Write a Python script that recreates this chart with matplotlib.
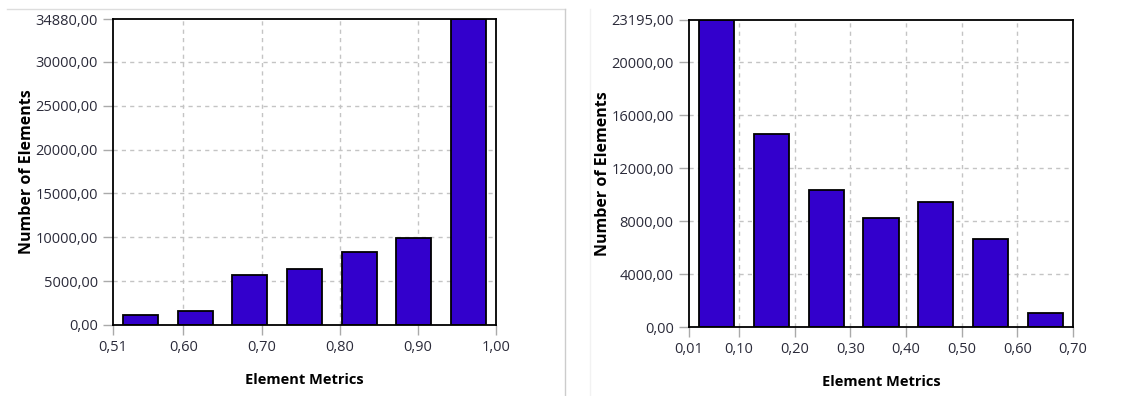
"""Two element-metric histograms side by side."""

import matplotlib
matplotlib.use('Agg')
import matplotlib.pyplot as plt
from matplotlib.lines import Line2D

plt.rcParams['font.family'] = ['Open Sans', 'DejaVu Sans']

# left chart: element quality
left_edges = [0.51, 0.58, 0.65, 0.72, 0.79, 0.86, 0.93, 1.00]
left_counts = [1140, 1600, 5700, 6380, 8320, 9960, 34880]
left_xticks = [0.51, 0.60, 0.70, 0.80, 0.90, 1.00]
left_yticks = [0, 5000, 10000, 15000, 20000, 25000, 30000, 34880]

# right chart: skewness
right_edges = [0.01, 0.1086, 0.2071, 0.3057, 0.4043, 0.5029, 0.6014, 0.70]
right_counts = [23195, 14570, 10340, 8270, 9450, 6630, 1060]
right_xticks = [0.01, 0.10, 0.20, 0.30, 0.40, 0.50, 0.60, 0.70]
right_yticks = [0, 4000, 8000, 12000, 16000, 20000, 23195]

BAR_COLOR = '#3300cc'
TICK_COLOR = '#2b2b3a'


def fmt(v):
    return f'{v:.2f}'.replace('.', ',')


def draw_panel(ax, edges, counts, xticks, yticks):
    centers = [(a + b) / 2 for a, b in zip(edges[:-1], edges[1:])]
    width = (edges[1] - edges[0]) * 0.64
    ax.bar(centers, counts, width=width, color=BAR_COLOR,
           edgecolor='black', linewidth=1.3, zorder=3)
    ax.set_xlim(edges[0], edges[-1])
    ax.set_ylim(0, yticks[-1])
    ax.set_xticks(xticks)
    ax.set_xticklabels([fmt(t) for t in xticks])
    ax.set_yticks(yticks)
    ax.set_yticklabels([fmt(t) for t in yticks])
    ax.tick_params(axis='both', direction='out', length=7, width=1,
                   color='#aaaaaa', labelsize=10.5, labelcolor=TICK_COLOR, pad=4)
    for s in ax.spines.values():
        s.set_linewidth(1.3)
        s.set_color('black')
        s.set_zorder(4)
    # dashed grid only on interior ticks
    for t in xticks[1:-1]:
        ax.axvline(t, color='#c4c4c4', linestyle=(0, (3, 3)), linewidth=1, zorder=1)
    for t in yticks[1:-1]:
        ax.axhline(t, color='#c4c4c4', linestyle=(0, (3, 3)), linewidth=1, zorder=1)
    ax.set_xlabel('Element Metrics', fontweight='bold', fontsize=10.5, labelpad=13)
    ax.set_ylabel('Number of Elements', fontweight='bold', fontsize=11.5, labelpad=0)


fig = plt.figure(figsize=(11.38, 3.96), dpi=100)
ax1 = fig.add_axes([0.0993, 0.1793, 0.3366, 0.7727])
ax2 = fig.add_axes([0.6054, 0.1742, 0.3375, 0.7753])

draw_panel(ax1, left_edges, left_counts, left_xticks, left_yticks)
draw_panel(ax2, right_edges, right_counts, right_xticks, right_yticks)

# faint screenshot frame around the left image
fig.add_artist(Line2D([7 / 1138, 565 / 1138], [1 - 9 / 396, 1 - 9 / 396],
                      color='#dddddd', linewidth=1))
fig.add_artist(Line2D([565 / 1138, 565 / 1138], [0, 1 - 9 / 396],
                      color='#cccccc', linewidth=1))
fig.add_artist(Line2D([590 / 1138, 590 / 1138], [0, 1 - 9 / 396],
                      color='#f2f2f2', linewidth=1))

fig.savefig('out.png', dpi=100)
